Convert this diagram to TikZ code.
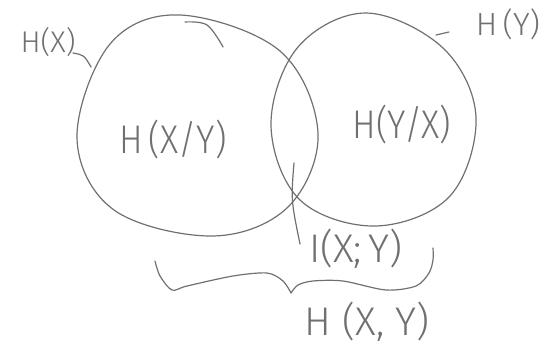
\documentclass[tikz,border=0pt]{standalone}
\usepackage{fontspec}
\newfontfamily\hand{Fira Sans}[UprightFont=* Light]
\definecolor{ink}{RGB}{112,112,112}
\newcommand{\narrow}[1]{\scalebox{0.88}[1]{#1}}
\begin{document}
\begin{tikzpicture}[x=1pt,y=-1pt,
  pen/.style={draw=ink,line width=1.2pt,line cap=round,line join=round},
  lbl/.style={text=ink,inner sep=0pt,anchor=center},
  big/.style={lbl,font=\hand\fontsize{40}{40}\selectfont}]
\useasboundingbox (0,0) rectangle (552,346);
% circles
\draw[pen] plot[smooth cycle,tension=0.6] coordinates {(77,138) (110,44) (180,15) (280,51) (318,133) (288,207) (213,236) (114,210)};
\draw[pen] plot[smooth cycle,tension=0.6] coordinates {(271,125) (298,47) (366,13) (443,48) (476,117) (450,196) (376,226) (300,200)};
\draw[pen] plot[smooth,tension=0.6] coordinates {(185,22) (207,25) (223,47)};
% labels
\node[lbl,font=\hand\fontsize{30}{30}\selectfont] (hx) at (48,42) {H(X)};
\node[lbl,font=\hand\fontsize{32}{32}\selectfont] (hy) at (508,24) {H\,(Y)};
\node[big] (hxy) at (173,139) {\narrow{H\,(X/Y)}};
\node[big] (hyx) at (402,124) {\narrow{H(Y/X)}};
\node[big] (ixy) at (356,249) {I(X;\,Y)};
\node[big] (hjoint) at (367,322) {H\;(X,\;Y)};
% leaders
\coordinate (hxend) at (91,67);
\draw[pen] (73,53) .. controls (84,55) .. (hxend);
\coordinate (hya) at (436,35);
\coordinate (hyb) at (449,32);
\draw[pen] (hya) -- (hyb);
\coordinate (itop) at (294,163);
\coordinate (ibot) at (300,244);
\draw[pen] (itop) .. controls (291,200) .. (ibot);
% brace
\draw[pen] plot[smooth,tension=0.5] coordinates {(155,261) (160,276) (172,290) (187,286) (233,276) (267,273) (283,281) (291,293)};
\draw[pen] plot[smooth,tension=0.5] coordinates {(291,293) (298,285) (313,281) (343,281) (386,290) (416,286) (429,273) (433,260) (433,248)};
\end{tikzpicture}
\end{document}
